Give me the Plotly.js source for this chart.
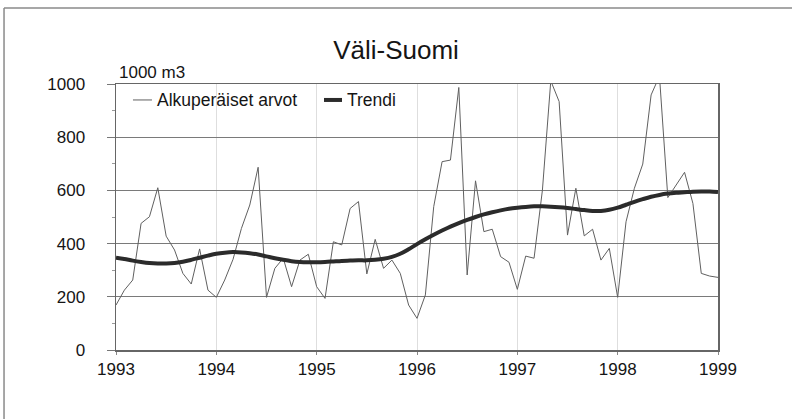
<!DOCTYPE html>
<html>
<head>
<meta charset="utf-8">
<script src="https://cdn.plot.ly/plotly-3.0.1.min.js"></script>
<style>
html,body{margin:0;padding:0;background:#fff;}
#chart{width:792px;height:419px;}
</style>
</head>
<body>
<div id="chart"></div>
<script>
// Monthly observations Jan 1993 .. Jan 1999 (1000 m3)
const startYear = 1993;
const rawValues = [
  169, 225, 263, 476, 501, 610, 428, 376, 288, 248, 380, 225,
  198, 263, 341, 457, 545, 687, 198, 307, 345, 238, 338, 360,
  238, 194, 407, 395, 532, 558, 286, 416, 307, 338, 288, 169,
  119, 207, 539, 708, 714, 987, 282, 636, 445, 454, 351, 330,
  228, 353, 345, 601, 1012, 934, 432, 608, 429, 454, 338, 382,
  198, 482, 608, 699, 959, 1030, 573, 620, 668, 551, 288, 278,
  273
];
const trendValues = [
  347, 342, 336, 331, 327, 325, 325, 327, 332, 339, 347, 355,
  362, 366, 368, 367, 364, 359, 352, 345, 339, 334, 331, 330,
  330, 331, 333, 335, 336, 337, 337, 339, 343, 350, 362, 379,
  398, 416, 433, 449, 464, 477, 489, 500, 510, 518, 525, 531,
  535, 538, 540, 540, 539, 537, 534, 530, 526, 523, 523, 527,
  535, 546, 557, 567, 576, 583, 588, 591, 593, 595, 596, 596,
  594
];
const yearTicks = [1993, 1994, 1995, 1996, 1997, 1998, 1999];
const seriesNames = ["Alkuperäiset arvot", "Trendi"];
const chartTitle = "Väli-Suomi";
const unitLabel = "1000 m3";

const xs = rawValues.map((v, i) => startYear + i / 12);

const font = "Liberation Sans, Arial, sans-serif";
const txt = "#151515";

const traces = [
  {x: xs, y: rawValues, type: "scatter", mode: "lines", name: seriesNames[0],
   line: {color: "#606060", width: 1}, showlegend: false},
  {x: xs, y: trendValues, type: "scatter", mode: "lines", name: seriesNames[1],
   line: {color: "#2b2b2b", width: 4, shape: "spline"}, showlegend: false}
];

const layout = {
  width: 792, height: 419,
  margin: {l: 116, r: 74, t: 84, b: 69},
  paper_bgcolor: "#fff", plot_bgcolor: "#fff",
  font: {family: font, size: 17, color: txt},
  title: {text: chartTitle, x: 0.5, xanchor: "center", y: 0.881, yanchor: "middle",
          font: {family: font, size: 26, color: txt}},
  xaxis: {
    range: [1993, 1999], tickvals: yearTicks, ticktext: yearTicks.map(String),
    showgrid: true, gridcolor: "#dedede", gridwidth: 1,
    showline: true, linecolor: "#666", linewidth: 1.5, mirror: true,
    ticks: "outside", ticklen: 3, tickcolor: "#888",
    tickfont: {family: font, size: 17, color: txt}, zeroline: false
  },
  yaxis: {
    range: [0, 1000], dtick: 200, tick0: 0,
    showgrid: true, gridcolor: "#7a7a7a", gridwidth: 1,
    showline: true, linecolor: "#666", linewidth: 1.5, mirror: true,
    ticks: "outside", ticklen: 8, tickcolor: "#777",
    minor: {dtick: 100, ticks: "outside", ticklen: 3, tickcolor: "#999", showgrid: false},
    ticklabelstandoff: 18,
    tickfont: {family: font, size: 17, color: txt}, zeroline: false
  },
  shapes: [
    {type: "line", xref: "paper", yref: "paper", x0: -0.186, x1: 1.2, y0: 1.2857, y1: 1.2857,
     line: {color: "#8a8a8a", width: 1.5}},
    {type: "line", xref: "paper", yref: "paper", x0: -0.186, x1: -0.186, y0: 1.2857, y1: -0.3,
     line: {color: "#8a8a8a", width: 1.5}},
    {type: "line", xref: "paper", yref: "paper", x0: 0.0282, x1: 0.0598, y0: 0.94, y1: 0.94,
     line: {color: "#606060", width: 1}},
    {type: "line", xref: "paper", yref: "paper", x0: 0.3455, x1: 0.3754, y0: 0.94, y1: 0.94,
     line: {color: "#2b2b2b", width: 4}}
  ],
  annotations: [
    {text: unitLabel, xref: "paper", yref: "paper", x: 0.002, y: 1.045, xanchor: "left", yanchor: "middle",
     showarrow: false, font: {family: font, size: 17, color: txt}},
    {text: seriesNames[0], xref: "paper", yref: "paper", x: 0.0648, y: 0.94, xanchor: "left", yanchor: "middle",
     showarrow: false, font: {family: font, size: 17.5, color: txt}},
    {text: seriesNames[1], xref: "paper", yref: "paper", x: 0.3804, y: 0.94, xanchor: "left", yanchor: "middle",
     showarrow: false, font: {family: font, size: 17.5, color: txt}}
  ]
};

Plotly.newPlot("chart", traces, layout, {displayModeBar: false, staticPlot: true});
</script>
</body>
</html>
